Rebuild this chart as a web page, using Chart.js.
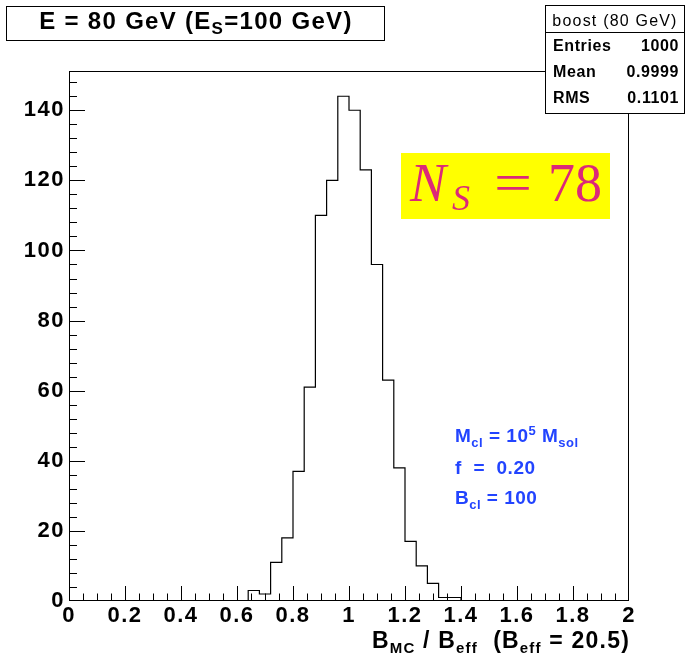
<!DOCTYPE html>
<html><head><meta charset="utf-8">
<script src="https://cdn.jsdelivr.net/npm/chart.js@4/dist/chart.umd.min.js"></script>
<style>html,body{margin:0;padding:0;background:#fff;}#wrap{width:686px;height:659px;position:relative;}</style>
</head><body><div id="wrap"><canvas id="c" width="686" height="659"></canvas></div>
<script>
// ---- data ----
const binEdges  = [0.00, 0.64, 0.68, 0.72, 0.76, 0.80, 0.84, 0.88, 0.92, 0.96, 1.00, 1.04, 1.08, 1.12, 1.16, 1.20, 1.24, 1.28, 1.32, 1.36, 1.40, 2.00];
const binCounts = [0,    3,    2,    11,   18,   37,   61,   110,  120,  144,  140,  123,  96,   63,   38,   17,   10,   5,    1,    1,    0,    0];
const xTickValues = [0, 0.2, 0.4, 0.6, 0.8, 1, 1.2, 1.4, 1.6, 1.8, 2];
const xTickLabels = ['0', '0.2', '0.4', '0.6', '0.8', '1', '1.2', '1.4', '1.6', '1.8', '2'];
const yTickValues = [0, 20, 40, 60, 80, 100, 120, 140];
const yTickLabels = ['0', '20', '40', '60', '80', '100', '120', '140'];
const statsTitle = 'boost (80 GeV)';
const statsNames = ['Entries', 'Mean', 'RMS'];
const statsValues = ['1000', '0.9999', '0.1101'];
const xMin = 0, xMax = 2, yMin = 0, yMax = 151.2;

const SANS = '"Liberation Sans", Arial, Helvetica, sans-serif';
const SERIF = '"Liberation Serif", "Times New Roman", serif';

function richText(ctx, segs, x, y, o) {
  const size = o.size, weight = o.weight || 'normal', ls = o.ls || 0, subScale = o.subScale || 0.68;
  ctx.save();
  ctx.letterSpacing = ls + 'px';
  ctx.fillStyle = o.color || '#000';
  ctx.textBaseline = 'alphabetic';
  ctx.textAlign = 'left';
  const fontFor = s => weight + ' ' + ((s.sub || s.sup) ? Math.round(size * subScale) : size) + 'px ' + (o.family || SANS);
  let total = 0;
  const widths = segs.map(s => { ctx.font = fontFor(s); const w = ctx.measureText(s.t).width; total += w; return w; });
  let cx = o.align === 'right' ? x - total : (o.align === 'center' ? x - total / 2 : x);
  segs.forEach((s, i) => {
    ctx.font = fontFor(s);
    const dy = s.sub ? (o.subDy || 5) : (s.sup ? -(o.supDy || 7) : 0);
    ctx.fillText(s.t, cx, y + dy);
    cx += widths[i];
  });
  ctx.restore();
}

const rootPlugin = {
  id: 'rootStyle',
  beforeDraw(chart) { chart.ctx.letterSpacing = '1.5px'; },
  afterDatasetsDraw(chart) {
    const { ctx, chartArea: a, scales: { x, y } } = chart;
    ctx.save();
    ctx.letterSpacing = '0px';
    ctx.strokeStyle = '#000';
    ctx.lineWidth = 1;
    ctx.beginPath();
    for (let k = 0; k <= 40; k++) {
      const v = k * 0.05;
      const px = Math.min(Math.round(x.getPixelForValue(v)) + 0.5, a.right - 0.5);
      const len = (k % 4 === 0) ? 15 : 7.5;
      ctx.moveTo(px, a.bottom); ctx.lineTo(px, a.bottom - len);
    }
    for (let k = 0; k * 4 <= yMax; k++) {
      const v = k * 4;
      const py = Math.min(Math.round(y.getPixelForValue(v)) + 0.5, a.bottom - 0.5);
      const len = (k % 5 === 0) ? 16 : 8;
      ctx.moveTo(a.left, py); ctx.lineTo(a.left + len, py);
    }
    ctx.stroke();
    ctx.strokeRect(a.left + 0.5, a.top + 0.5, a.right - a.left - 1, a.bottom - a.top - 1);
    ctx.restore();
  },
  afterDraw(chart) {
    const ctx = chart.ctx;
    ctx.letterSpacing = '0px';
    ctx.save();
    // title box
    ctx.fillStyle = '#fff';
    ctx.fillRect(6, 6, 379, 34);
    ctx.strokeStyle = '#000'; ctx.lineWidth = 1;
    ctx.strokeRect(6.5, 6.5, 378, 34);
    richText(ctx, [{ t: 'E = 80 GeV (E' }, { t: 'S', sub: true }, { t: '=100 GeV)' }], 196, 29,
      { size: 24, weight: 'bold', ls: 1.3, align: 'center', subScale: 0.7, subDy: 5 });

    // stats box
    ctx.fillStyle = '#fff';
    ctx.fillRect(545, 5, 140, 108);
    ctx.strokeRect(545.5, 5.5, 139, 108);
    ctx.beginPath(); ctx.moveTo(545, 32.5); ctx.lineTo(685, 32.5); ctx.stroke();
    richText(ctx, [{ t: statsTitle }], 615, 26, { size: 16, weight: 'normal', ls: 1.2, align: 'center' });
    const rowY = [51, 77, 103];
    statsNames.forEach((n, i) => {
      richText(ctx, [{ t: n }], 553, rowY[i], { size: 16, weight: 'bold', ls: 0.6, align: 'left' });
      richText(ctx, [{ t: statsValues[i] }], 679, rowY[i], { size: 16, weight: 'bold', ls: 0.6, align: 'right' });
    });

    // N_S = 78 box
    ctx.fillStyle = '#ffff00';
    ctx.fillRect(401, 153, 209, 66);
    ctx.fillStyle = '#dc2878';
    ctx.textBaseline = 'alphabetic'; ctx.textAlign = 'left';
    ctx.font = 'italic 54px ' + SERIF;
    ctx.fillText('N', 410, 201);
    ctx.font = 'italic 36px ' + SERIF;
    ctx.fillText('S', 452, 210);
    ctx.save();
    ctx.translate(494, 201); ctx.scale(1.25, 1);
    ctx.font = '54px ' + SERIF;
    ctx.fillText('=', 0, 0);
    ctx.restore();
    ctx.font = '54px ' + SERIF;
    ctx.fillText('78', 548, 201);

    // blue annotation
    const blue = '#2244ff';
    richText(ctx, [{ t: 'M' }, { t: 'cl', sub: true }, { t: ' = 10' }, { t: '5', sup: true }, { t: ' M' }, { t: 'sol', sub: true }], 455, 442,
      { size: 19, weight: 'bold', ls: 0.5, color: blue, subDy: 5, supDy: 7 });
    richText(ctx, [{ t: 'f  =  0.20' }], 455, 474, { size: 19, weight: 'bold', ls: 0.5, color: blue });
    richText(ctx, [{ t: 'B' }, { t: 'cl', sub: true }, { t: ' = 100' }], 455, 504,
      { size: 19, weight: 'bold', ls: 0.5, color: blue, subDy: 5 });

    // x axis title
    richText(ctx, [{ t: 'B' }, { t: 'MC', sub: true }, { t: ' / B' }, { t: 'eff', sub: true }, { t: '  (B' }, { t: 'eff', sub: true }, { t: ' = 20.5)' }],
      630, 648, { size: 23, weight: 'bold', ls: 1.2, align: 'right', subScale: 0.65, subDy: 5 });
    ctx.restore();
  }
};

const points = binEdges.map((e, i) => ({ x: e, y: binCounts[i] }));
const tickFont = { family: SANS, size: 22, weight: 'bold' };

new Chart(document.getElementById('c').getContext('2d'), {
  type: 'line',
  data: { datasets: [{ data: points, stepped: 'before', borderColor: '#000', borderWidth: 1.2, pointRadius: 0, fill: false, tension: 0 }] },
  options: {
    responsive: false, animation: false, devicePixelRatio: 1,
    layout: { padding: { left: 0, right: 57, top: 71, bottom: 0 } },
    plugins: { legend: { display: false }, tooltip: { enabled: false }, title: { display: false } },
    scales: {
      x: {
        type: 'linear', min: xMin, max: xMax,
        afterBuildTicks: s => { s.ticks = xTickValues.map(v => ({ value: v })); },
        afterFit: s => { s.height = 58; },
        grid: { display: false, drawTicks: false }, border: { display: false },
        ticks: { callback: (v, i) => xTickLabels[i], color: '#000', font: tickFont, padding: 2, maxRotation: 0, autoSkip: false }
      },
      y: {
        type: 'linear', min: yMin, max: yMax,
        afterBuildTicks: s => { s.ticks = yTickValues.map(v => ({ value: v })); },
        afterFit: s => { s.width = 69; },
        grid: { display: false, drawTicks: false }, border: { display: false },
        ticks: { callback: (v, i) => yTickLabels[i], color: '#000', font: tickFont, padding: 4, autoSkip: false }
      }
    }
  },
  plugins: [rootPlugin]
});
</script></body></html>
